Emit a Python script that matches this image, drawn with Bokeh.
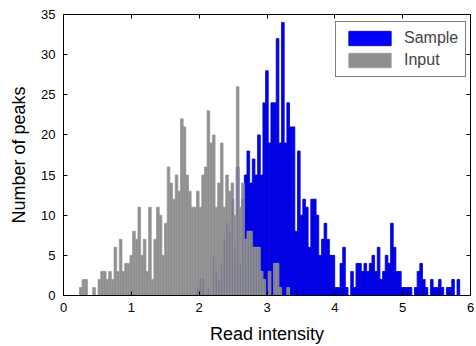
from bokeh.plotting import figure
from bokeh.models import LinearAxis, Legend, LegendItem, FixedTicker, Range1d
from bokeh.embed import file_html
from bokeh.resources import INLINE
import numpy as np

# Histogram bins (edges at k * bin_width)
bin_width = 0.0392

# Input (grey) counts, starting at bin index 6
input_first_bin = 6
input_counts = [1, 2, 2, 0, 0, 1, 0, 2, 3, 3, 2, 3, 2, 6, 3, 7, 3, 4, 4, 5,
                8, 7, 11, 5, 7, 3, 11, 2, 7, 11, 10, 5, 9, 16, 14, 12, 15, 13, 22, 21,
                15, 13, 11, 11, 13, 11, 15, 16, 23, 19, 20, 11, 14, 19, 11, 15, 13, 14, 10, 26,
                11, 14, 7, 8, 8, 6, 6, 6, 3, 2, 0, 3, 0, 4, 4, 1, 0, 0, 1]

# Sample (blue) counts, starting at bin index 50
sample_first_bin = 50
sample_counts = [1, 2, 2, 0, 1, 0, 5, 3, 2, 4, 7, 9, 8, 12, 6, 16, 4, 12, 15, 18,
                 14, 17, 15, 20, 15, 24, 28, 19, 24, 24, 32, 19, 34, 19, 24, 21, 21, 8, 18, 10,
                 12, 11, 6, 12, 12, 10, 5, 7, 9, 7, 5, 5, 1, 1, 4, 6, 1, 0, 3, 1,
                 4, 4, 3, 4, 3, 4, 5, 3, 6, 2, 3, 5, 4, 9, 6, 3, 3, 1, 1, 1,
                 1, 0, 1, 3, 4, 2, 1, 0, 2, 1, 1, 2, 1, 0, 1, 1, 2, 0, 2]

x_ticks = [0, 1, 2, 3, 4, 5, 6]
y_ticks = [0, 5, 10, 15, 20, 25, 30, 35]

FONT = "Liberation Sans"


def bin_edges(first, counts):
    k = np.arange(first, first + len(counts))
    return k * bin_width, (k + 1) * bin_width


p = figure(width=476, height=346, x_range=Range1d(0, 6), y_range=Range1d(0, 35),
           output_backend="svg", toolbar_location=None,
           min_border_left=63, min_border_right=6, min_border_top=14, min_border_bottom=51,
           background_fill_color="white", border_fill_color="white")
p.grid.visible = False
p.outline_line_color = "black"
p.outline_line_width = 1

sl, sr = bin_edges(sample_first_bin, sample_counts)
blue = p.quad(left=sl, right=sr, bottom=0, top=sample_counts,
              fill_color="#0000ff", line_color="#0000b8", line_width=0.8)
il, ir = bin_edges(input_first_bin, input_counts)
grey = p.quad(left=il, right=ir, bottom=0, top=input_counts,
              fill_color="#858585", fill_alpha=0.92, line_color="#999999", line_width=0.8)

for ax in (p.xaxis[0], p.yaxis[0]):
    ax.major_tick_in = 4
    ax.major_tick_out = 0
    ax.minor_tick_line_color = None
    ax.axis_line_color = "black"
    ax.major_tick_line_color = "black"
    ax.major_label_text_font = FONT
    ax.major_label_text_font_size = "13px"
    ax.major_label_text_color = "black"
    ax.axis_label_text_font = FONT
    ax.axis_label_text_font_size = "18px"
    ax.axis_label_text_font_style = "normal"
    ax.axis_label_text_color = "black"

p.xaxis[0].ticker = FixedTicker(ticks=x_ticks)
p.yaxis[0].ticker = FixedTicker(ticks=y_ticks)
p.xaxis[0].axis_label = "Read intensity"
p.yaxis[0].axis_label = "Number of peaks"
p.xaxis[0].major_label_standoff = 7
p.xaxis[0].axis_label_standoff = 9
p.yaxis[0].major_label_standoff = 8
p.yaxis[0].axis_label_standoff = 9

top_ax = LinearAxis(ticker=FixedTicker(ticks=x_ticks), major_tick_in=4, major_tick_out=0,
                    minor_tick_line_color=None, major_label_text_color=None,
                    major_label_standoff=0, axis_line_color="black")
right_ax = LinearAxis(ticker=FixedTicker(ticks=y_ticks), major_tick_in=4, major_tick_out=0,
                      minor_tick_line_color=None, major_label_text_color=None,
                      major_label_standoff=0, axis_line_color="black")
p.add_layout(top_ax, "above")
p.add_layout(right_ax, "right")

legend = Legend(items=[LegendItem(label="Sample", renderers=[blue]),
                       LegendItem(label="Input", renderers=[grey])],
                location=(272, 218), margin=0, padding=7, spacing=4,
                glyph_width=53, glyph_height=18, label_height=18, label_standoff=8,
                label_text_font=FONT, label_text_font_size="16px",
                border_line_color="black", border_line_width=1,
                background_fill_color="white", background_fill_alpha=1)
p.add_layout(legend)

open("out.html", "w").write(file_html(p, INLINE))
